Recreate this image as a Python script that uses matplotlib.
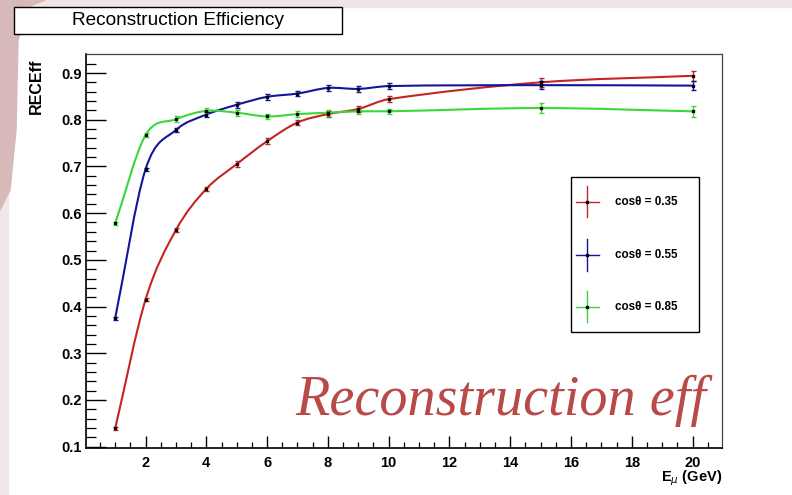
import numpy as np
import matplotlib
matplotlib.use("Agg")
import matplotlib.pyplot as plt
from matplotlib import font_manager
from matplotlib.path import Path
from matplotlib.patches import PathPatch, Rectangle, Polygon

# Data
energy = [1, 2, 3, 4, 5, 6, 7, 8, 9, 10, 15, 20]
eff_035 = [0.139, 0.415, 0.564, 0.652, 0.705, 0.754, 0.794, 0.812, 0.823, 0.844, 0.880, 0.894]
eff_055 = [0.375, 0.694, 0.778, 0.811, 0.832, 0.849, 0.856, 0.868, 0.866, 0.872, 0.874, 0.873]
eff_085 = [0.578, 0.767, 0.801, 0.819, 0.815, 0.807, 0.812, 0.815, 0.818, 0.818, 0.825, 0.818]
err_035 = [0.003, 0.003, 0.005, 0.005, 0.007, 0.006, 0.006, 0.006, 0.006, 0.007, 0.009, 0.011]
err_055 = [0.003, 0.003, 0.005, 0.006, 0.007, 0.006, 0.006, 0.006, 0.006, 0.007, 0.008, 0.009]
err_085 = [0.004, 0.004, 0.006, 0.006, 0.006, 0.006, 0.006, 0.006, 0.006, 0.006, 0.010, 0.012]
labels = ["cos\u03b8 = 0.35", "cos\u03b8 = 0.55", "cos\u03b8 = 0.85"]
colors = ["#c42424", "#14149c", "#3ad63a"]

W, H = 792, 495


def fx(px):
    return px / W


def fy(py):
    return 1 - py / H


def smooth_path(x, y):
    # smooth curve through the points (like ROOT "C" option), drawn as bezier segments
    x = np.asarray(x, float)
    y = np.asarray(y, float)
    n = len(x)
    m = np.zeros(n)
    m[0] = (y[1] - y[0]) / (x[1] - x[0])
    m[-1] = (y[-1] - y[-2]) / (x[-1] - x[-2])
    m[1:-1] = (y[2:] - y[:-2]) / (x[2:] - x[:-2])
    verts = [(x[0], y[0])]
    codes = [Path.MOVETO]
    for i in range(n - 1):
        h = x[i + 1] - x[i]
        verts += [(x[i] + h / 3, y[i] + m[i] * h / 3),
                  (x[i + 1] - h / 3, y[i + 1] - m[i + 1] * h / 3),
                  (x[i + 1], y[i + 1])]
        codes += [Path.CURVE4] * 3
    return Path(verts, codes)


# narrow font for the legend, if one is installed
installed = {f.name for f in font_manager.fontManager.ttflist}
if "Liberation Sans Narrow" in installed:
    leg_font = font_manager.FontProperties(family="Liberation Sans Narrow", weight="bold", size=10)
else:
    leg_font = font_manager.FontProperties(family="Liberation Sans", weight="bold", size=8.4)

fig = plt.figure(figsize=(7.92, 4.95), dpi=100)
fig.patch.set_facecolor("white")

# pinkish slide background at the top / left edge
fig.patches.append(Rectangle((0, fy(7)), 1, 7 / H, transform=fig.transFigure,
                             color="#f1e5e5", zorder=0))
fig.patches.append(Rectangle((0, 0), fx(8), 1, transform=fig.transFigure,
                             color="#f0e8e8", zorder=0))
corner = [(0, 0), (45, 0), (28, 7), (18, 40), (16, 130), (10, 190), (0, 210)]
fig.patches.append(Polygon([(fx(a), fy(b)) for a, b in corner], closed=True,
                           transform=fig.transFigure, color="#d7b9b9", zorder=0))

ax = fig.add_axes([fx(86), fy(448), fx(722) - fx(86), fy(54) - fy(448)])

for y, e, c in zip([eff_035, eff_055, eff_085], [err_035, err_055, err_085], colors):
    ax.add_patch(PathPatch(smooth_path(energy, y), fill=False, edgecolor=c, lw=1.5, zorder=2))
    ax.errorbar(energy, y, yerr=e, fmt="none", ecolor=c, elinewidth=1.0, capsize=1.8, zorder=3)
    ax.plot(energy, y, "s", color="black", ms=1.6, zorder=4)

ax.set_xlim(0.04, 20.97)
ax.set_ylim(0.0972, 0.9407)
ax.set_xticks(np.arange(2, 21, 2))
ax.set_xticks(np.arange(0.5, 21, 0.5), minor=True)
ax.set_yticks(np.arange(0.1, 0.95, 0.1))
ax.set_yticks(np.arange(0.1, 0.94, 0.02), minor=True)
ax.yaxis.set_major_formatter(matplotlib.ticker.FormatStrFormatter("%.1f"))

tick_font = font_manager.FontProperties(family="Liberation Sans", weight="bold", size=10.5)
for lab in ax.get_xticklabels() + ax.get_yticklabels():
    lab.set_fontproperties(tick_font)

ax.tick_params(axis="y", which="major", direction="in", length=14.4, width=1.0, pad=3)
ax.tick_params(axis="y", which="minor", direction="in", length=7.2, width=0.9)
ax.tick_params(axis="x", which="major", direction="in", length=8.6, width=1.0, pad=5.5)
ax.tick_params(axis="x", which="minor", direction="in", length=4, width=0.9)

for s in ["top", "right"]:
    ax.spines[s].set_color("#444444")
    ax.spines[s].set_linewidth(0.9)
for s in ["left", "bottom"]:
    ax.spines[s].set_color("black")
    ax.spines[s].set_linewidth(1.2)

# legend box (ROOT style)
ax.add_patch(Rectangle((0.7626, 0.2952), 0.2012, 0.3926, transform=ax.transAxes,
                       facecolor="white", edgecolor="black", lw=1.0, zorder=5))
leg_y = [0.6251, 0.4898, 0.3586]
for ly, c, lab in zip(leg_y, colors, labels):
    ax.plot([0.7704, 0.8066], [ly, ly], color=c, lw=1.0, transform=ax.transAxes, zorder=6)
    ax.plot([0.7885, 0.7885], [ly - 0.04, ly + 0.04], color=c, lw=1.0,
            transform=ax.transAxes, zorder=6)
    ax.plot([0.7885], [ly], "s", color="black", ms=1.8, transform=ax.transAxes, zorder=7)
    ax.text(0.8318, ly, lab, transform=ax.transAxes, va="center", ha="left",
            fontproperties=leg_font, zorder=7)

# watermark text
fig.text(fx(295), fy(415), "Reconstruction eff", family="Liberation Serif", style="italic",
         size=40.5, color="#b84a4a", ha="left", va="baseline", zorder=10)

# title box
fig.patches.append(Rectangle((fx(14), fy(34.3)), fx(342) - fx(14), fy(7) - fy(34.3),
                             transform=fig.transFigure, facecolor="white",
                             edgecolor="black", lw=1.0, zorder=1))
fig.text(fx(178), fy(20.5), "Reconstruction Efficiency", family="Liberation Sans",
         size=13.7, ha="center", va="center", zorder=2)

fig.text(fx(36), fy(86), "RECEff", rotation=90, family="Liberation Sans", weight="bold",
         size=11.5, ha="center", va="center")
fig.text(fx(722), fy(481), r"E$_{\mu}$ (GeV)", family="Liberation Sans", weight="bold",
         size=10.5, ha="right", va="baseline")

fig.savefig("out.png", dpi=100)
